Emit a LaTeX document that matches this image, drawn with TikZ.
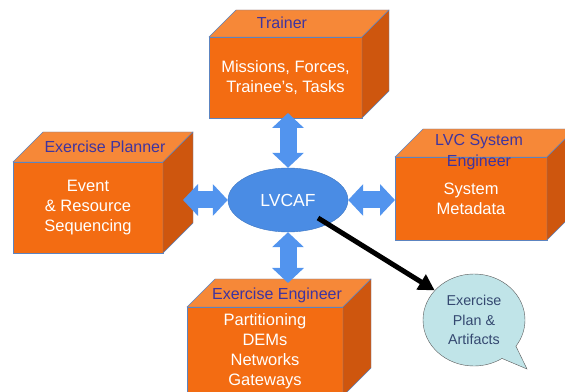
\documentclass[tikz,border=0pt]{standalone}
\usepackage{fontspec}
\setmainfont{Liberation Sans}
\usetikzlibrary{arrows.meta,shapes.geometric,shapes.callouts}

\definecolor{frontorange}{RGB}{243,108,18}
\definecolor{toporange}{RGB}{246,136,56}
\definecolor{sideorange}{RGB}{206,86,14}
\definecolor{edgeblue}{RGB}{92,132,192}
\definecolor{titleblue}{RGB}{62,52,160}
\definecolor{arrowblue}{RGB}{82,148,238}
\definecolor{hubblue}{RGB}{74,140,228}
\definecolor{bubblefill}{RGB}{192,228,232}
\definecolor{bubbletext}{RGB}{52,72,112}

% top and right faces of a box drawn behind a front node
\newcommand{\cubefaces}[4]{%
  \draw[topface] (#1.north west) -- ++(#4,#4) -- ++(#2,0) -- (#1.north east) -- cycle;
  \draw[sideface] (#1.north east) -- ++(#4,#4) -- ++(0,-#3) -- (#1.south east) -- cycle;
}

\begin{document}
\begin{tikzpicture}[x=1pt,y=1pt,
    front/.style={draw=edgeblue, fill=frontorange, text=white, align=center,
      inner sep=0pt, outer sep=0pt, font=\fontsize{16.5}{20}\selectfont},
    topface/.style={draw=edgeblue, fill=toporange},
    sideface/.style={draw=edgeblue, fill=sideorange},
    title/.style={text=titleblue, align=center, font=\fontsize{16}{21}\selectfont},
    blockarrow/.style={arrowblue, line width=17pt,
      {Triangle[width=31pt,length=15pt]}-{Triangle[width=31pt,length=15pt]}},
    hub/.style={ellipse, fill=hubblue, draw=hubblue!85!black, text=white,
      minimum width=120, minimum height=64, inner sep=0pt,
      font=\fontsize{17.5}{20}\selectfont},
    bubble/.style={ellipse callout, fill=bubblefill, draw=black!65, text=bubbletext,
      align=center, minimum width=102, minimum height=92, inner sep=0pt,
      font=\fontsize{14.3}{19.5}\selectfont}]
  \clip (0,0) rectangle (565,391);
  \useasboundingbox (0,0) rectangle (565,391);

  % boxes
  \node[front, minimum width=153, minimum height=81] (trainer) at (285.5,313.5)
    {Missions, Forces,\\Trainee's, Tasks};
  \cubefaces{trainer}{153}{81}{27}
  \node[front, minimum width=150, minimum height=91] (planner) at (88,183.5)
    {Event\\\& Resource\\Sequencing};
  \cubefaces{planner}{150}{91}{30}
  \node[front, minimum width=152, minimum height=83] (lvc) at (471,192.5)
    {System\\Metadata};
  \cubefaces{lvc}{152}{83}{28}
  \node[front, minimum width=156, minimum height=89] (engineer) at (265,39.5)
    {Partitioning\\DEMs\\Networks\\Gateways};
  \cubefaces{engineer}{156}{89}{28}

  \node[title] (trainertitle) at (282,368) {Trainer};
  \node[title] (plannertitle) at (105,244) {Exercise Planner};
  \node[title] (lvctitle) at (479,238.5) {LVC System\\Engineer};
  \node[title] (engineertitle) at (277,96) {Exercise Engineer};

  % hub and links
  \node[hub] (lvcaf) at (288,191) {LVCAF};
  \draw[blockarrow] ([yshift=5]lvcaf |- trainer.south) -- (lvcaf.north);
  \draw[blockarrow] ([xshift=20]planner.east |- lvcaf) -- (lvcaf.west);
  \draw[blockarrow] (lvcaf.east) -- (lvc.west |- lvcaf);
  \draw[blockarrow] (lvcaf.south) -- ([yshift=24]lvcaf |- engineer.north);

  \node[bubble, callout absolute pointer={(527,22)}, callout pointer arc=22] (plan) at (474,71)
    {Exercise\\Plan \&\\Artifacts};
  \coordinate (lvcafout) at (318,173);
  \draw[line width=5pt, -{Triangle[width=17pt,length=16pt]}] (lvcafout) -- (plan.143);
\end{tikzpicture}
\end{document}
